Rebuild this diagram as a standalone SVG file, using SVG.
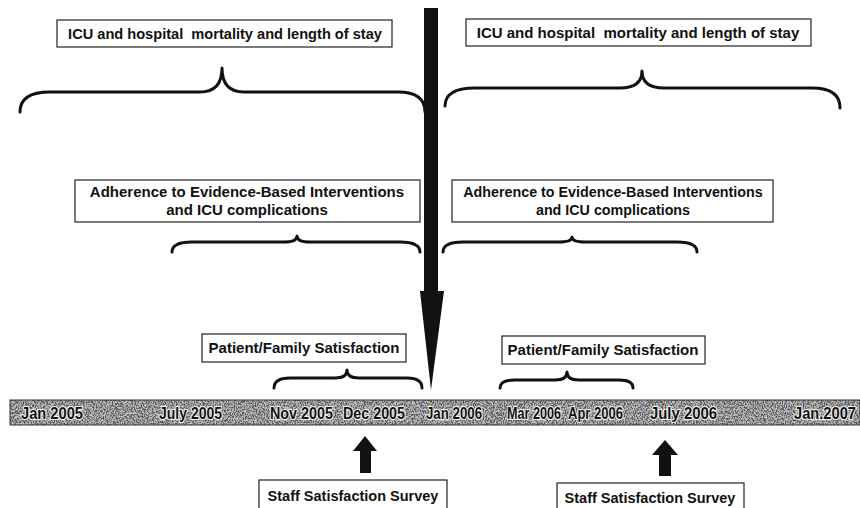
<svg xmlns="http://www.w3.org/2000/svg" width="860" height="508" viewBox="0 0 860 508">
  <defs>
    <style>
      .box { fill: #fff; stroke: #222; stroke-width: 1.2; }
      .lbl { font-family: "Liberation Sans", Arial, sans-serif; font-weight: bold; fill: #111; text-anchor: middle; white-space: pre; }
      .brace { fill: none; stroke: #111; stroke-width: 3; stroke-linecap: round; stroke-linejoin: round; }
      .date { font-family: "Liberation Sans", Arial, sans-serif; font-weight: bold; font-size: 16px; fill: #111; stroke: #f4f4f4; stroke-width: 2.2; paint-order: stroke; stroke-linejoin: round; }
      .solid { fill: #111; stroke: none; }
    </style>
    <!-- speckled grey texture for the timeline band -->
    <filter id="speckle" x="0" y="0" width="100%" height="100%">
      <feTurbulence type="fractalNoise" baseFrequency="0.9 0.55" numOctaves="2" seed="7" result="n"/>
      <feColorMatrix in="n" type="matrix" values="0 0 0 0 0  0 0 0 0 0  0 0 0 0 0  1.6 0 0 0 -0.35" result="a"/>
      <feComponentTransfer in="a" result="d">
        <feFuncA type="discrete" tableValues="0 0.35 0.85 1"/>
      </feComponentTransfer>
      <feFlood flood-color="#4a4a4a" result="c"/>
      <feComposite in="c" in2="d" operator="in" result="dots"/>
      <feFlood flood-color="#c4c4c4" result="bg"/>
      <feMerge>
        <feMergeNode in="bg"/>
        <feMergeNode in="dots"/>
      </feMerge>
    </filter>
  </defs>

  <rect width="860" height="508" fill="#fff"/>

  <!-- timeline band -->
  <g id="timeline">
    <rect x="10" y="400" width="850" height="25" filter="url(#speckle)"/>
    <rect x="10" y="400" width="850" height="25" fill="none" stroke="#333" stroke-width="1"/>
    <text class="date" x="21" y="419" textLength="62" lengthAdjust="spacingAndGlyphs">Jan 2005</text>
    <text class="date" x="159" y="419" textLength="63" lengthAdjust="spacingAndGlyphs">July 2005</text>
    <text class="date" x="270" y="419" textLength="63" lengthAdjust="spacingAndGlyphs">Nov 2005</text>
    <text class="date" x="343" y="419" textLength="62" lengthAdjust="spacingAndGlyphs">Dec 2005</text>
    <text class="date" x="426" y="419" textLength="56" lengthAdjust="spacingAndGlyphs">Jan 2006</text>
    <text class="date" x="507" y="419" textLength="54" lengthAdjust="spacingAndGlyphs">Mar 2006</text>
    <text class="date" x="568" y="419" textLength="55" lengthAdjust="spacingAndGlyphs">Apr 2006</text>
    <text class="date" x="650" y="419" textLength="67" lengthAdjust="spacingAndGlyphs">July 2006</text>
    <text class="date" x="794" y="419" textLength="62" lengthAdjust="spacingAndGlyphs">Jan.2007</text>
  </g>

  <!-- braces and arrows -->
  <g id="connectors">
    <!-- top braces -->
    <path class="brace" d="M20,112 Q20,92 50,92 L200,92 Q222,92 222,68 Q222,92 244,92 L398,92 Q425,92 425,112"/>
    <path class="brace" d="M445,106 Q445,88 475,88 L620,88 Q642,88 642,71 Q642,88 664,88 L812,88 Q840,88 840,108"/>
    <!-- middle braces -->
    <path class="brace" d="M172,252 Q172,242 192,242 L284,242 Q297,242 297,236 Q297,242 310,242 L400,242 Q420,242 420,252"/>
    <path class="brace" d="M443,252 Q443,242 463,242 L559,242 Q572,242 572,237 Q572,242 585,242 L677,242 Q697,242 697,252"/>
    <!-- lower braces -->
    <path class="brace" d="M274,388 Q274,378 290,378 L335,378 Q347,378 347,370 Q347,378 359,378 L407,378 Q422,378 422,388"/>
    <path class="brace" d="M500,388 Q500,380 515,380 L555,380 Q567,380 567,372 Q567,380 579,380 L619,380 Q633,380 633,388"/>
    <!-- central downward arrow -->
    <path class="solid" d="M424,8 L438,8 L438,291 L444,291 L431,390 L420,291 L424,291 Z"/>
    <!-- staff survey arrows -->
    <path class="solid" d="M360,473 L360,451 L353,451 L365,436 L377,451 L371,451 L371,473 Z"/>
    <path class="solid" d="M659,476 L659,455 L652,455 L665,440 L678,455 L671,455 L671,476 Z"/>
  </g>

  <g id="outcomes-left">
    <rect class="box" x="57" y="20" width="335" height="27"/>
    <text class="lbl" x="225" y="39" font-size="14.6">ICU and hospital  mortality and length of stay</text>
  </g>
  <g id="outcomes-right">
    <rect class="box" x="466" y="19" width="345" height="27"/>
    <text class="lbl" x="638" y="38" font-size="15">ICU and hospital  mortality and length of stay</text>
  </g>

  <g id="adherence-left">
    <rect class="box" x="75" y="180" width="345" height="42"/>
    <text class="lbl" x="247" y="197" font-size="15">Adherence to Evidence-Based Interventions</text>
    <text class="lbl" x="247" y="215" font-size="15">and ICU complications</text>
  </g>
  <g id="adherence-right">
    <rect class="box" x="452" y="180" width="321" height="42"/>
    <text class="lbl" x="613" y="197" font-size="14.3">Adherence to Evidence-Based Interventions</text>
    <text class="lbl" x="613" y="215" font-size="14.3">and ICU complications</text>
  </g>

  <g id="family-left">
    <rect class="box" x="202" y="334" width="204" height="28"/>
    <text class="lbl" x="304" y="353" font-size="15">Patient/Family Satisfaction</text>
  </g>
  <g id="family-right">
    <rect class="box" x="502" y="336" width="203" height="28"/>
    <text class="lbl" x="603" y="355" font-size="15">Patient/Family Satisfaction</text>
  </g>

  <g id="staff-left">
    <rect class="box" x="259" y="480" width="188" height="32"/>
    <text class="lbl" x="353" y="501" font-size="14.5">Staff Satisfaction Survey</text>
  </g>
  <g id="staff-right">
    <rect class="box" x="557" y="483" width="187" height="32"/>
    <text class="lbl" x="650" y="503" font-size="14.5">Staff Satisfaction Survey</text>
  </g>
</svg>
